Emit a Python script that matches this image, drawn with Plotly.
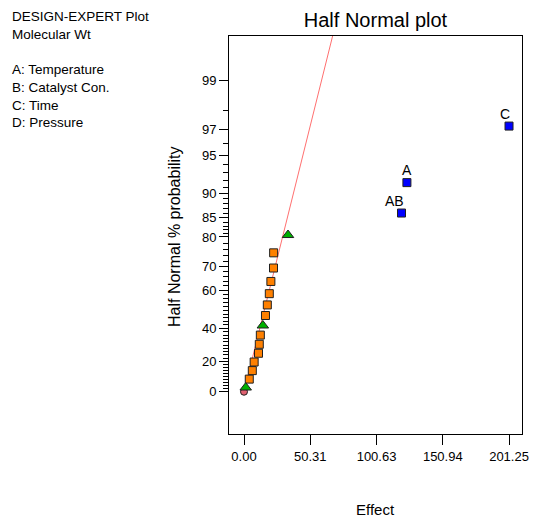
from statistics import NormalDist
import plotly.graph_objects as go

# ---------------- data ----------------
EFFECT = [1.3, 4.0, 6.3, 7.7, 11.0, 11.6, 12.4, 14.3, 16.3, 17.7, 19.2, 20.4,
          22.4, 22.5, 33.4, 119.6, 123.7, 201.25]
HALF_NORMAL_PCT = [2.78, 8.33, 13.89, 19.44, 25.00, 30.56, 36.11, 41.67, 47.22,
                   52.78, 58.33, 63.89, 69.44, 75.00, 80.56, 86.11, 91.67, 97.22]
POINT_KIND = ["green", "orange", "orange", "orange", "orange", "orange", "orange",
              "green", "orange", "orange", "orange", "orange", "orange", "orange",
              "green", "blue", "blue", "blue"]
POINT_LABEL = ["", "", "", "", "", "", "", "", "", "", "", "", "", "", "", "AB", "A", "C"]

ORIGIN_EFFECT = [0.0]
ORIGIN_PCT = [0.0]

LINE_EFFECT = [0.0, 79.5]
LINE_PCT = [0.0, 99.95]

Y_TICK_PCT = [0, 20, 40, 60, 70, 80, 85, 90, 95, 97, 99]
Y_MINOR_PCT = ([p for p in range(2, 80, 2) if p not in Y_TICK_PCT]
               + [81, 82, 83, 84, 86, 87, 88, 89, 91, 92, 93, 94, 96, 98])
X_TICKS = [0.00, 50.31, 100.63, 150.94, 201.25]

INFO_LINES = ["DESIGN-EXPERT Plot", "Molecular Wt", "", "A: Temperature",
              "B: Catalyst Con.", "C: Time", "D: Pressure"]

# ---------------- half-normal probability scale ----------------
_nd = NormalDist()


def hn(p):
    return _nd.inv_cdf(0.5 + p / 200.0)


FONT = "Arial, Liberation Sans, sans-serif"
COLORS = {"green": "#00B000", "orange": "#FF8000", "blue": "#0000FF"}
SYMBOLS = {"green": "triangle-up", "orange": "square", "blue": "square"}
SIZES = {"green": 10, "orange": 8, "blue": 8}

fig = go.Figure()

fig.add_trace(go.Scatter(
    x=LINE_EFFECT, y=[hn(p) for p in LINE_PCT], mode="lines",
    line=dict(color="#FF7070", width=1), hoverinfo="skip", showlegend=False))

fig.add_trace(go.Scatter(
    x=ORIGIN_EFFECT, y=[hn(p) for p in ORIGIN_PCT], mode="markers",
    marker=dict(symbol="circle", size=7, color="#E06070",
                line=dict(color="#202020", width=1)),
    showlegend=False))

for kind in ["orange", "green", "blue"]:
    xs = [e for e, k in zip(EFFECT, POINT_KIND) if k == kind]
    ys = [hn(p) for p, k in zip(HALF_NORMAL_PCT, POINT_KIND) if k == kind]
    fig.add_trace(go.Scatter(
        x=xs, y=ys, mode="markers",
        marker=dict(symbol=SYMBOLS[kind], size=SIZES[kind], color=COLORS[kind],
                    line=dict(color="#202020", width=1)),
        showlegend=False))

label_shift = {"AB": (-7, 12), "A": (0, 13), "C": (-4, 12)}
for e, p, lab in zip(EFFECT, HALF_NORMAL_PCT, POINT_LABEL):
    if lab:
        dx, dy = label_shift[lab]
        fig.add_annotation(x=e, y=hn(p), text=lab, showarrow=False,
                           xshift=dx, yshift=dy,
                           font=dict(family=FONT, size=14, color="black"))

# info text at top left
info_y = [17, 34, 51, 69.5, 87.5, 105, 122]
for txt, py in zip(INFO_LINES, info_y):
    if txt:
        fig.add_annotation(xref="paper", yref="paper",
                           x=(10 - 229) / 293, y=(434 - py) / 398,
                           xanchor="left", yanchor="middle", text=txt,
                           showarrow=False,
                           font=dict(family=FONT, size=13.5, color="black"))

# axis titles
fig.add_annotation(xref="paper", yref="paper", x=(174 - 229) / 293, y=(434 - 237) / 398,
                   textangle=-90, text="Half Normal % probability",
                   showarrow=False, xanchor="center", yanchor="middle",
                   font=dict(family=FONT, size=16, color="black"))
fig.add_annotation(xref="paper", yref="paper", x=0.5, y=(434 - 509) / 398,
                   text="Effect", showarrow=False, xanchor="center",
                   yanchor="middle", font=dict(family=FONT, size=15, color="black"))

fig.update_layout(
    width=533, height=518,
    margin=dict(l=229, r=11, t=36, b=84, autoexpand=False),
    paper_bgcolor="white", plot_bgcolor="white",
    title=dict(text="Half Normal plot", x=0.5, xref="paper", y=1 - 20 / 518,
               yanchor="middle", automargin=False,
               font=dict(family=FONT, size=20, color="black")),
    font=dict(family=FONT, color="black"),
    xaxis=dict(range=[-11.4, 211.1], tickmode="array", tickvals=X_TICKS,
               ticktext=[f"{v:.2f}" for v in X_TICKS], ticks="outside",
               ticklen=10, tickcolor="black", showgrid=False, zeroline=False,
               showline=True, linecolor="black", linewidth=1, mirror=True,
               automargin=False,
               tickfont=dict(family=FONT, size=13, color="black")),
    yaxis=dict(range=[-0.350, 2.946], tickmode="array",
               tickvals=[hn(p) for p in Y_TICK_PCT],
               ticktext=[str(p) for p in Y_TICK_PCT], ticks="outside",
               ticklen=9, tickcolor="black", showgrid=False, zeroline=False,
               showline=True, linecolor="black", linewidth=1, mirror=True,
               automargin=False,
               tickfont=dict(family=FONT, size=13, color="black"),
               minor=dict(tickmode="array", tickvals=[hn(p) for p in Y_MINOR_PCT],
                          ticks="outside", ticklen=5, tickcolor="black",
                          showgrid=False)),
)

fig.write_html("out.html", config={"displayModeBar": False},
               post_script="document.body.style.margin='0';"
                           "document.body.style.padding='0';")
